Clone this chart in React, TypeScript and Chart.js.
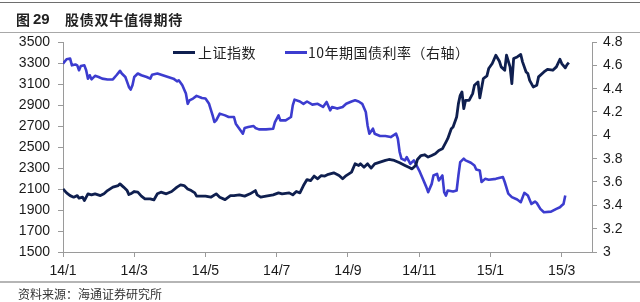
import React, { useEffect, useRef } from 'react';
import { Chart, registerables } from 'chart.js';

Chart.register(...registerables);

// x axis: trading-day index, one labelled tick every 40 days
const xTickLabels = ['14/1', '14/3', '14/5', '14/7', '14/9', '14/11', '15/1', '15/3'];

const shDays = [0, 2, 4, 6, 8, 9, 11, 12, 14, 16, 18, 21, 23, 25, 28, 31, 32, 34, 36, 37, 38, 40, 42, 44, 46, 49, 51, 53, 55, 58, 61, 64, 66, 68, 70, 72, 74, 75, 78, 80, 83, 86, 88, 91, 94, 96, 99, 102, 105, 108, 109, 111, 114, 118, 121, 123, 127, 129, 131, 133, 135, 137, 139, 141, 143, 145, 147, 149, 152, 155, 157, 159, 162, 164, 166, 167, 169, 171, 173, 175, 178, 181, 183, 186, 189, 192, 195, 196, 198, 199, 201, 203, 205, 207, 209, 211, 213, 215, 216, 218, 219, 221, 222, 223, 224, 225, 226, 228, 230, 231, 233, 234, 236, 238, 239, 241, 243, 245, 246, 248, 249, 251, 252, 253, 255, 257, 258, 260, 261, 262, 264, 266, 267, 270, 272, 275, 277, 279, 280, 282, 283, 284];
const shIndex = [2101, 2063, 2037, 2022, 2037, 2013, 2022, 1990, 2054, 2044, 2054, 2037, 2054, 2085, 2118, 2133, 2149, 2118, 2085, 2047, 2054, 2076, 2070, 2032, 2006, 2006, 1996, 2054, 2070, 2054, 2076, 2118, 2140, 2133, 2101, 2085, 2063, 2032, 2032, 2032, 2022, 2054, 2022, 1999, 2037, 2037, 2044, 2032, 2054, 2085, 2044, 2022, 2032, 2044, 2063, 2054, 2063, 2044, 2076, 2063, 2133, 2190, 2180, 2223, 2197, 2228, 2223, 2240, 2254, 2228, 2197, 2228, 2261, 2340, 2324, 2340, 2308, 2340, 2299, 2340, 2356, 2372, 2381, 2372, 2350, 2324, 2299, 2292, 2324, 2381, 2419, 2426, 2404, 2419, 2436, 2467, 2483, 2547, 2579, 2674, 2690, 2786, 2913, 2992, 3025, 2865, 2944, 2944, 3008, 3088, 3120, 2967, 3152, 3177, 3247, 3295, 3374, 3317, 3263, 3231, 3374, 3263, 3104, 3342, 3358, 3381, 3311, 3215, 3199, 3135, 3072, 3088, 3168, 3215, 3240, 3231, 3263, 3336, 3295, 3254, 3285, 3304];

const bondDays = [0, 2, 4, 5, 7, 8, 9, 10, 12, 13, 14, 15, 16, 18, 20, 22, 25, 28, 30, 32, 33, 35, 36, 37, 38, 39, 40, 42, 44, 47, 49, 50, 53, 56, 59, 62, 64, 65, 67, 69, 70, 71, 73, 75, 78, 80, 82, 84, 85, 86, 88, 91, 93, 96, 97, 99, 101, 102, 104, 107, 108, 110, 114, 118, 119, 121, 122, 125, 128, 129, 130, 133, 135, 137, 140, 143, 146, 148, 150, 151, 154, 157, 159, 162, 164, 166, 168, 170, 171, 172, 174, 175, 178, 181, 184, 187, 188, 189, 190, 192, 193, 195, 197, 199, 200, 202, 204, 205, 207, 208, 210, 211, 213, 214, 215, 216, 219, 221, 222, 223, 225, 226, 229, 231, 232, 234, 235, 237, 239, 243, 247, 248, 250, 252, 255, 257, 259, 261, 263, 265, 266, 268, 270, 274, 277, 279, 280, 281, 282];
const bondYield = [4.615, 4.652, 4.658, 4.6, 4.607, 4.6, 4.558, 4.595, 4.6, 4.558, 4.486, 4.515, 4.48, 4.51, 4.5, 4.486, 4.478, 4.48, 4.515, 4.553, 4.53, 4.5, 4.458, 4.415, 4.392, 4.43, 4.5, 4.53, 4.515, 4.5, 4.486, 4.52, 4.53, 4.515, 4.5, 4.486, 4.463, 4.472, 4.43, 4.358, 4.27, 4.3, 4.315, 4.338, 4.32, 4.315, 4.27, 4.171, 4.114, 4.128, 4.186, 4.171, 4.157, 4.157, 4.1, 4.057, 4.014, 4.063, 4.071, 4.08, 4.063, 4.051, 4.051, 4.057, 4.114, 4.171, 4.128, 4.128, 4.157, 4.257, 4.306, 4.29, 4.27, 4.29, 4.263, 4.27, 4.243, 4.286, 4.214, 4.243, 4.229, 4.243, 4.271, 4.29, 4.3, 4.29, 4.27, 4.2, 4.085, 4.014, 4.057, 4.014, 3.994, 3.994, 3.985, 4.014, 3.971, 3.857, 3.8, 3.785, 3.814, 3.756, 3.785, 3.728, 3.698, 3.627, 3.556, 3.513, 3.584, 3.656, 3.67, 3.613, 3.656, 3.513, 3.484, 3.527, 3.518, 3.527, 3.656, 3.77, 3.8, 3.785, 3.765, 3.742, 3.707, 3.698, 3.6, 3.627, 3.62, 3.627, 3.642, 3.6, 3.5, 3.47, 3.45, 3.427, 3.507, 3.484, 3.412, 3.432, 3.42, 3.37, 3.341, 3.346, 3.37, 3.384, 3.398, 3.412, 3.484];

const SH_COLOR = '#0f1f4f';
const BOND_COLOR = '#3c3ccf';
const AXIS_COLOR = '#9a9a9a';
const TICK_FONT = { family: '"Liberation Sans", Arial, sans-serif', size: 14 };
const CJK = '"Noto Sans CJK SC", "Noto Sans", sans-serif';

export default function App() {
  const ref = useRef<HTMLCanvasElement>(null);

  useEffect(() => {
    if (!ref.current) return;
    const chart = new Chart(ref.current, {
      type: 'line',
      data: {
        datasets: [
          {
            label: '上证指数',
            data: shDays.map((d, i) => ({ x: d, y: shIndex[i] })),
            yAxisID: 'y',
            borderColor: SH_COLOR,
            backgroundColor: SH_COLOR,
            borderWidth: 2.8,
            pointRadius: 0,
            tension: 0,
            borderJoinStyle: 'round',
          },
          {
            label: '10年期国债利率（右轴）',
            data: bondDays.map((d, i) => ({ x: d, y: bondYield[i] })),
            yAxisID: 'y1',
            borderColor: BOND_COLOR,
            backgroundColor: BOND_COLOR,
            borderWidth: 2.6,
            pointRadius: 0,
            tension: 0,
            borderJoinStyle: 'round',
          },
        ],
      },
      options: {
        animation: false,
        responsive: false,
        devicePixelRatio: 1,
        layout: { padding: { top: 42, left: 0, right: 0, bottom: 0 } },
        plugins: { legend: { display: false }, tooltip: { enabled: false }, title: { display: false } },
        scales: {
          x: {
            type: 'linear',
            min: 0,
            max: 297,
            afterFit: (s: any) => { s.height = 50; },
            ticks: {
              stepSize: 40,
              includeBounds: false,
              autoSkip: false,
              maxRotation: 0,
              padding: 6,
              color: '#1a1a1a',
              font: TICK_FONT,
              callback: (v: any) => {
                const k = Number(v) / 40;
                return Number.isInteger(k) && xTickLabels[k] ? xTickLabels[k] : '';
              },
            },
            grid: { display: true, drawOnChartArea: false, drawTicks: true, tickLength: 5, color: AXIS_COLOR },
            border: { display: true, color: AXIS_COLOR, width: 1 },
          },
          y: {
            type: 'linear',
            position: 'left',
            min: 1500,
            max: 3500,
            afterFit: (s: any) => { s.width = 63; },
            ticks: {
              stepSize: 200,
              padding: 8,
              color: '#1a1a1a',
              font: TICK_FONT,
              callback: (v: any) => String(Math.round(Number(v))),
            },
            grid: { display: true, drawOnChartArea: false, drawTicks: true, tickLength: 5, color: AXIS_COLOR },
            border: { display: true, color: AXIS_COLOR, width: 1 },
          },
          y1: {
            type: 'linear',
            position: 'right',
            min: 3,
            max: 4.8,
            afterFit: (s: any) => { s.width = 48; },
            ticks: {
              stepSize: 0.2,
              padding: 6,
              color: '#1a1a1a',
              font: TICK_FONT,
              callback: (v: any) => String(Number(Number(v).toFixed(1))),
            },
            grid: { display: true, drawOnChartArea: false, drawTicks: true, tickLength: 5, color: AXIS_COLOR },
            border: { display: true, color: AXIS_COLOR, width: 1 },
          },
        },
      },
    });
    return () => chart.destroy();
  }, []);

  const abs = (s: React.CSSProperties): React.CSSProperties => ({ position: 'absolute', ...s });

  return (
    <div style={{ position: 'fixed', left: 0, top: 0, width: 640, height: 302, background: '#fff', overflow: 'hidden' }}>
      <canvas ref={ref} width={640} height={302} style={abs({ left: 0, top: 0, width: 640, height: 302 })} />
      <div style={abs({ left: 0, top: 2, width: 640, height: 1, background: '#6e6e6e' })} />
      <div style={abs({ left: 0, top: 32, width: 640, height: 1, background: '#a8a8a8' })} />
      <div style={abs({ left: 16, top: 10, fontFamily: CJK, fontWeight: 700, fontSize: 14, lineHeight: '18px', color: '#222', whiteSpace: 'nowrap' })}>图</div>
      <div style={abs({ left: 33, top: 10, fontFamily: '"Liberation Sans", Arial, sans-serif', fontWeight: 700, fontSize: 15, lineHeight: '18px', color: '#222' })}>29</div>
      <div style={abs({ left: 65, top: 10, fontFamily: CJK, fontWeight: 700, fontSize: 14, letterSpacing: 0.75, lineHeight: '18px', color: '#222', whiteSpace: 'nowrap' })}>股债双牛值得期待</div>

      {/* legend */}
      <div style={abs({ left: 173, top: 51, width: 22, height: 3, background: SH_COLOR })} />
      <div style={abs({ left: 198, top: 43, fontFamily: CJK, fontSize: 14, letterSpacing: 0.5, lineHeight: '18px', color: '#222', whiteSpace: 'nowrap' })}>上证指数</div>
      <div style={abs({ left: 285, top: 51, width: 22, height: 3, background: BOND_COLOR })} />
      <div style={abs({ left: 308, top: 43, fontFamily: CJK, fontSize: 14, letterSpacing: 0.5, lineHeight: '18px', color: '#222', whiteSpace: 'nowrap' })}>10年期国债利率（右轴）</div>

      <div style={abs({ left: 0, top: 281, width: 640, height: 2, background: '#b5b5b5' })} />
      <div style={abs({ left: 18, top: 287, fontFamily: CJK, fontSize: 12, lineHeight: '14px', color: '#333', whiteSpace: 'nowrap' })}>资料来源：海通证券研究所</div>
    </div>
  );
}
